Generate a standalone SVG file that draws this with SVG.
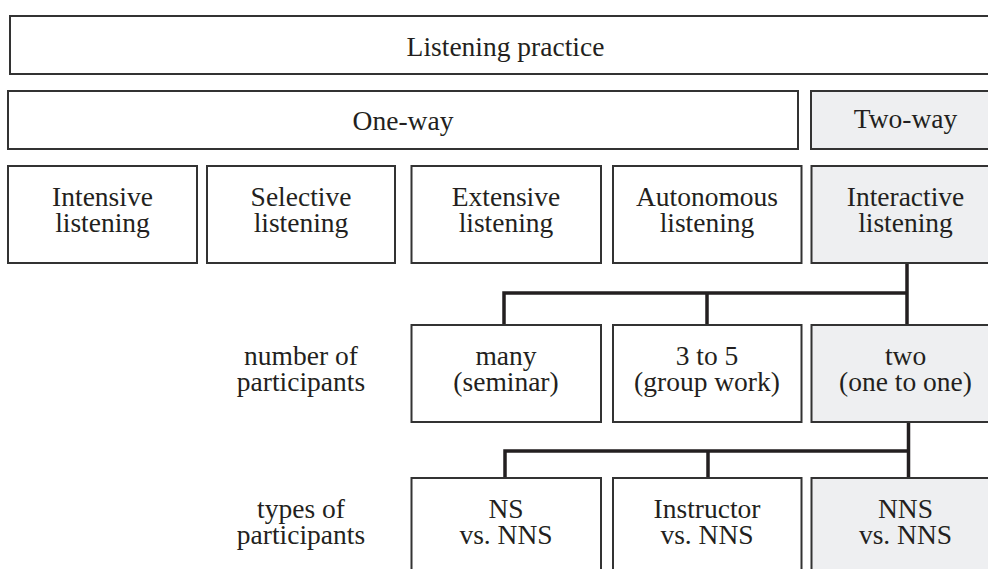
<svg xmlns="http://www.w3.org/2000/svg" width="988" height="569" viewBox="0 0 988 569">
<style>
.box{fill:#ffffff;stroke:#333333;stroke-width:2}
.shade{fill:#eeeff1}
.t{font-family:"Liberation Serif","Times New Roman",serif;font-size:27.5px;fill:#231f20;text-anchor:middle}
.c{fill:none;stroke:#231f20;stroke-width:3.5;stroke-linecap:butt;stroke-linejoin:miter}
</style>
<rect width="988" height="569" fill="#ffffff"/>
<g id="listening-practice"><rect class="box" x="10" y="16" width="992" height="58"/><text class="t" x="505.5" y="56">Listening practice</text></g>
<g id="one-way"><rect class="box" x="8" y="91" width="790" height="58"/><text class="t" x="403" y="130">One-way</text></g>
<g id="two-way"><rect class="box shade" x="811" y="91" width="192" height="58"/><text class="t" x="905.5" y="128">Two-way</text></g>
<g id="intensive"><rect class="box" x="8" y="166" width="189" height="97"/><text class="t" y="206"><tspan x="102.5">Intensive</tspan><tspan x="102.5" dy="25.5">listening</tspan></text></g>
<g id="selective"><rect class="box" x="207" y="166" width="188" height="97"/><text class="t" y="206"><tspan x="301">Selective</tspan><tspan x="301" dy="25.5">listening</tspan></text></g>
<g id="extensive"><rect class="box" x="411.5" y="166" width="189.5" height="97"/><text class="t" y="206"><tspan x="506">Extensive</tspan><tspan x="506" dy="25.5">listening</tspan></text></g>
<g id="autonomous"><rect class="box" x="613" y="166" width="188.5" height="97"/><text class="t" y="206"><tspan x="707">Autonomous</tspan><tspan x="707" dy="25.5">listening</tspan></text></g>
<g id="interactive"><rect class="box shade" x="811.5" y="166" width="191" height="97"/><text class="t" y="206"><tspan x="905.5">Interactive</tspan><tspan x="905.5" dy="25.5">listening</tspan></text></g>
<g id="label-number"><text class="t" y="365"><tspan x="301">number of</tspan><tspan x="301" dy="25.5">participants</tspan></text></g>
<g id="many"><rect class="box" x="411.5" y="325" width="189.5" height="97"/><text class="t" y="365"><tspan x="506">many</tspan><tspan x="506" dy="25.5">(seminar)</tspan></text></g>
<g id="three-to-five"><rect class="box" x="613" y="325" width="188.5" height="97"/><text class="t" y="365"><tspan x="707">3 to 5</tspan><tspan x="707" dy="25.5">(group work)</tspan></text></g>
<g id="two"><rect class="box shade" x="811.5" y="325" width="191" height="97"/><text class="t" y="365"><tspan x="905.5">two</tspan><tspan x="905.5" dy="25.5">(one to one)</tspan></text></g>
<g id="label-types"><text class="t" y="518"><tspan x="301">types of</tspan><tspan x="301" dy="25.5">participants</tspan></text></g>
<g id="ns-nns"><rect class="box" x="411.5" y="478" width="189.5" height="110"/><text class="t" y="518"><tspan x="506">NS</tspan><tspan x="506" dy="25.5">vs. NNS</tspan></text></g>
<g id="instructor-nns"><rect class="box" x="613" y="478" width="188.5" height="110"/><text class="t" y="518"><tspan x="707">Instructor</tspan><tspan x="707" dy="25.5">vs. NNS</tspan></text></g>
<g id="nns-nns"><rect class="box shade" x="811.5" y="478" width="191" height="110"/><text class="t" y="518"><tspan x="905.5">NNS</tspan><tspan x="905.5" dy="25.5">vs. NNS</tspan></text></g>
<g id="connectors">
<path class="c" d="M907 264 V324 M504 324 V293 H907 M707 293 V324"/>
<path class="c" d="M908.5 423 V477 M505 477 V451 H908.5 M708 451 V477"/>
</g>
</svg>
